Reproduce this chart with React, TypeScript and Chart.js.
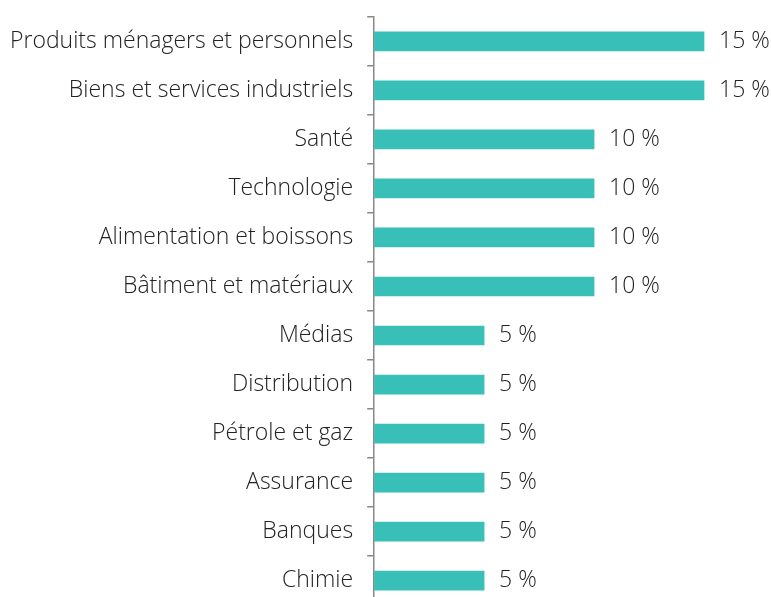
import React, { useEffect, useRef } from "react";
import { Chart, registerables } from "chart.js";

Chart.register(...registerables);

const categories = [
  "Produits ménagers et personnels",
  "Biens et services industriels",
  "Santé",
  "Technologie",
  "Alimentation et boissons",
  "Bâtiment et matériaux",
  "Médias",
  "Distribution",
  "Pétrole et gaz",
  "Assurance",
  "Banques",
  "Chimie",
];
const values = [15, 15, 10, 10, 10, 10, 5, 5, 5, 5, 5, 5];

const FONT = "'Open Sans', sans-serif";

const labelPlugin = {
  id: "valueLabels",
  afterDatasetsDraw(chart: any) {
    const ctx = chart.ctx;
    const meta = chart.getDatasetMeta(0);
    ctx.save();
    ctx.font = `300 23px ${FONT}`;
    ctx.fillStyle = "#222";
    ctx.textAlign = "left";
    ctx.textBaseline = "middle";
    meta.data.forEach((bar: any, i: number) => {
      ctx.fillText(`${values[i]} %`, bar.x + 15, bar.y);
    });
    ctx.restore();
  },
};

export default function App() {
  const ref = useRef<HTMLCanvasElement>(null);
  useEffect(() => {
    const chart = new Chart(ref.current!, {
      type: "bar",
      data: {
        labels: categories,
        datasets: [
          {
            data: values,
            backgroundColor: "#38bfb7",
            barThickness: 19,
          },
        ],
      },
      options: {
        indexAxis: "y",
        animation: false,
        responsive: true,
        maintainAspectRatio: false,
        layout: { padding: { top: 3, bottom: 0, right: 1, left: 0 } },
        plugins: { legend: { display: false }, tooltip: { enabled: false } },
        scales: {
          x: { display: false, min: 0, max: 18 },
          y: {
            grid: {
              offset: true,
              drawOnChartArea: false,
              tickLength: 7,
              color: "#888",
              lineWidth: 1.5,
            },
            border: { color: "#888", width: 1.5 },
            ticks: {
              color: "#222",
              padding: 14,
              font: { family: FONT, size: 23, weight: 300 as any },
            },
          },
        },
      },
      plugins: [labelPlugin],
    });
    return () => chart.destroy();
  }, []);
  return (
    <div style={{ position: "absolute", left: -4, top: -11, width: 775, height: 644 }}>
      <canvas ref={ref} />
    </div>
  );
}
